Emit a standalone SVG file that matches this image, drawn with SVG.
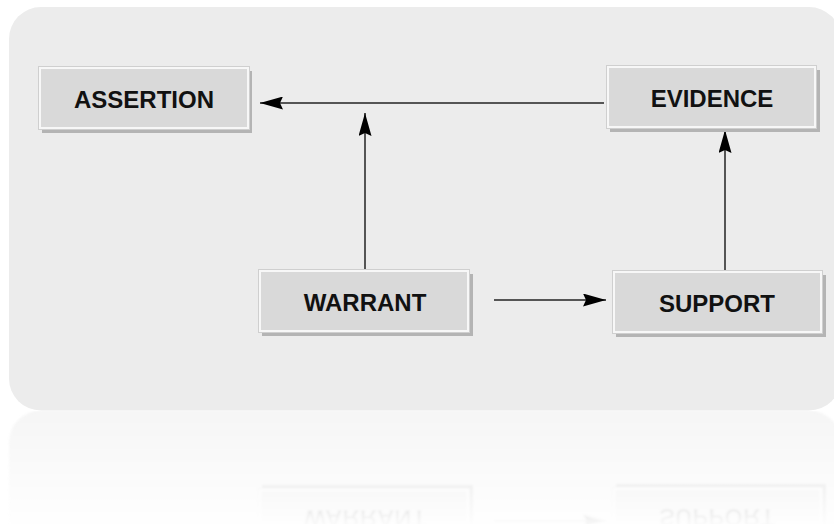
<svg xmlns="http://www.w3.org/2000/svg" xmlns:xlink="http://www.w3.org/1999/xlink" width="834" height="524" viewBox="0 0 834 524">
<style>
.panel{fill:#ececec}
.shadow{fill:#b4b4b4}
.box{fill:#d9d9d9;stroke:#f7f7f7;stroke-width:2}
.outline{fill:none;stroke:#cfcfcf;stroke-width:1}
.lbl{font-family:"Liberation Sans",Arial,sans-serif;font-weight:bold;font-size:24px;fill:#111;text-anchor:middle}
.conn{stroke:#555;stroke-width:2;fill:none}
</style>
<defs>
<marker id="arr" viewBox="0 0 23 13" refX="23" refY="6.5" markerWidth="23" markerHeight="13" markerUnits="userSpaceOnUse" orient="auto">
<path d="M0,0 L23,6.5 L0,13 L3,6.5 Z" fill="#000"/>
</marker>
<linearGradient id="fade" x1="0" y1="411" x2="0" y2="524" gradientUnits="userSpaceOnUse">
<stop offset="0" stop-color="#fff" stop-opacity="0.5"/>
<stop offset="1" stop-color="#fff" stop-opacity="0.03"/>
</linearGradient>
<mask id="rmask" maskUnits="userSpaceOnUse" x="0" y="411" width="834" height="113">
<rect x="0" y="411" width="834" height="113" fill="url(#fade)"/>
</mask>
<filter id="blur" x="-5%" y="-5%" width="110%" height="110%"><feGaussianBlur stdDeviation="1.2"/></filter>
</defs>
<rect width="834" height="524" fill="#fff"/>
<g id="scene">
<rect id="panel" class="panel" x="9" y="7" width="832" height="403.5" rx="32" ry="32"/>
<g id="connectors">
<line class="conn" x1="604" y1="103" x2="260" y2="103" marker-end="url(#arr)"/>
<line class="conn" x1="365" y1="270" x2="365" y2="113" marker-end="url(#arr)"/>
<line class="conn" x1="494" y1="300" x2="606" y2="300" marker-end="url(#arr)"/>
<line class="conn" x1="725" y1="271" x2="725" y2="130" marker-end="url(#arr)"/>
</g>
<g id="assertion">
<rect class="shadow" x="42" y="71" width="210" height="62"/>
<rect class="outline" x="38.5" y="66.5" width="211" height="63"/>
<rect class="box" x="40" y="68" width="208" height="60"/>
<text class="lbl" x="144" y="107.5">ASSERTION</text>
</g>
<g id="evidence">
<rect class="shadow" x="610" y="70" width="210" height="62"/>
<rect class="outline" x="606.5" y="65.5" width="210" height="63"/>
<rect class="box" x="608" y="67" width="207" height="60"/>
<text class="lbl" x="712" y="107">EVIDENCE</text>
</g>
<g id="warrant">
<rect class="shadow" x="262" y="274" width="211" height="62"/>
<rect class="outline" x="258.5" y="269.5" width="211" height="63"/>
<rect class="box" x="260" y="271" width="208" height="60"/>
<text class="lbl" x="365" y="311">WARRANT</text>
</g>
<g id="support">
<rect class="shadow" x="616" y="275" width="210" height="62"/>
<rect class="outline" x="612.5" y="270.5" width="210" height="63"/>
<rect class="box" x="614" y="272" width="207" height="60"/>
<text class="lbl" x="717" y="312">SUPPORT</text>
</g>
</g>
<g id="reflection" mask="url(#rmask)">
<use xlink:href="#scene" href="#scene" transform="translate(0,821) scale(1,-1)" filter="url(#blur)"/>
</g>
</svg>
